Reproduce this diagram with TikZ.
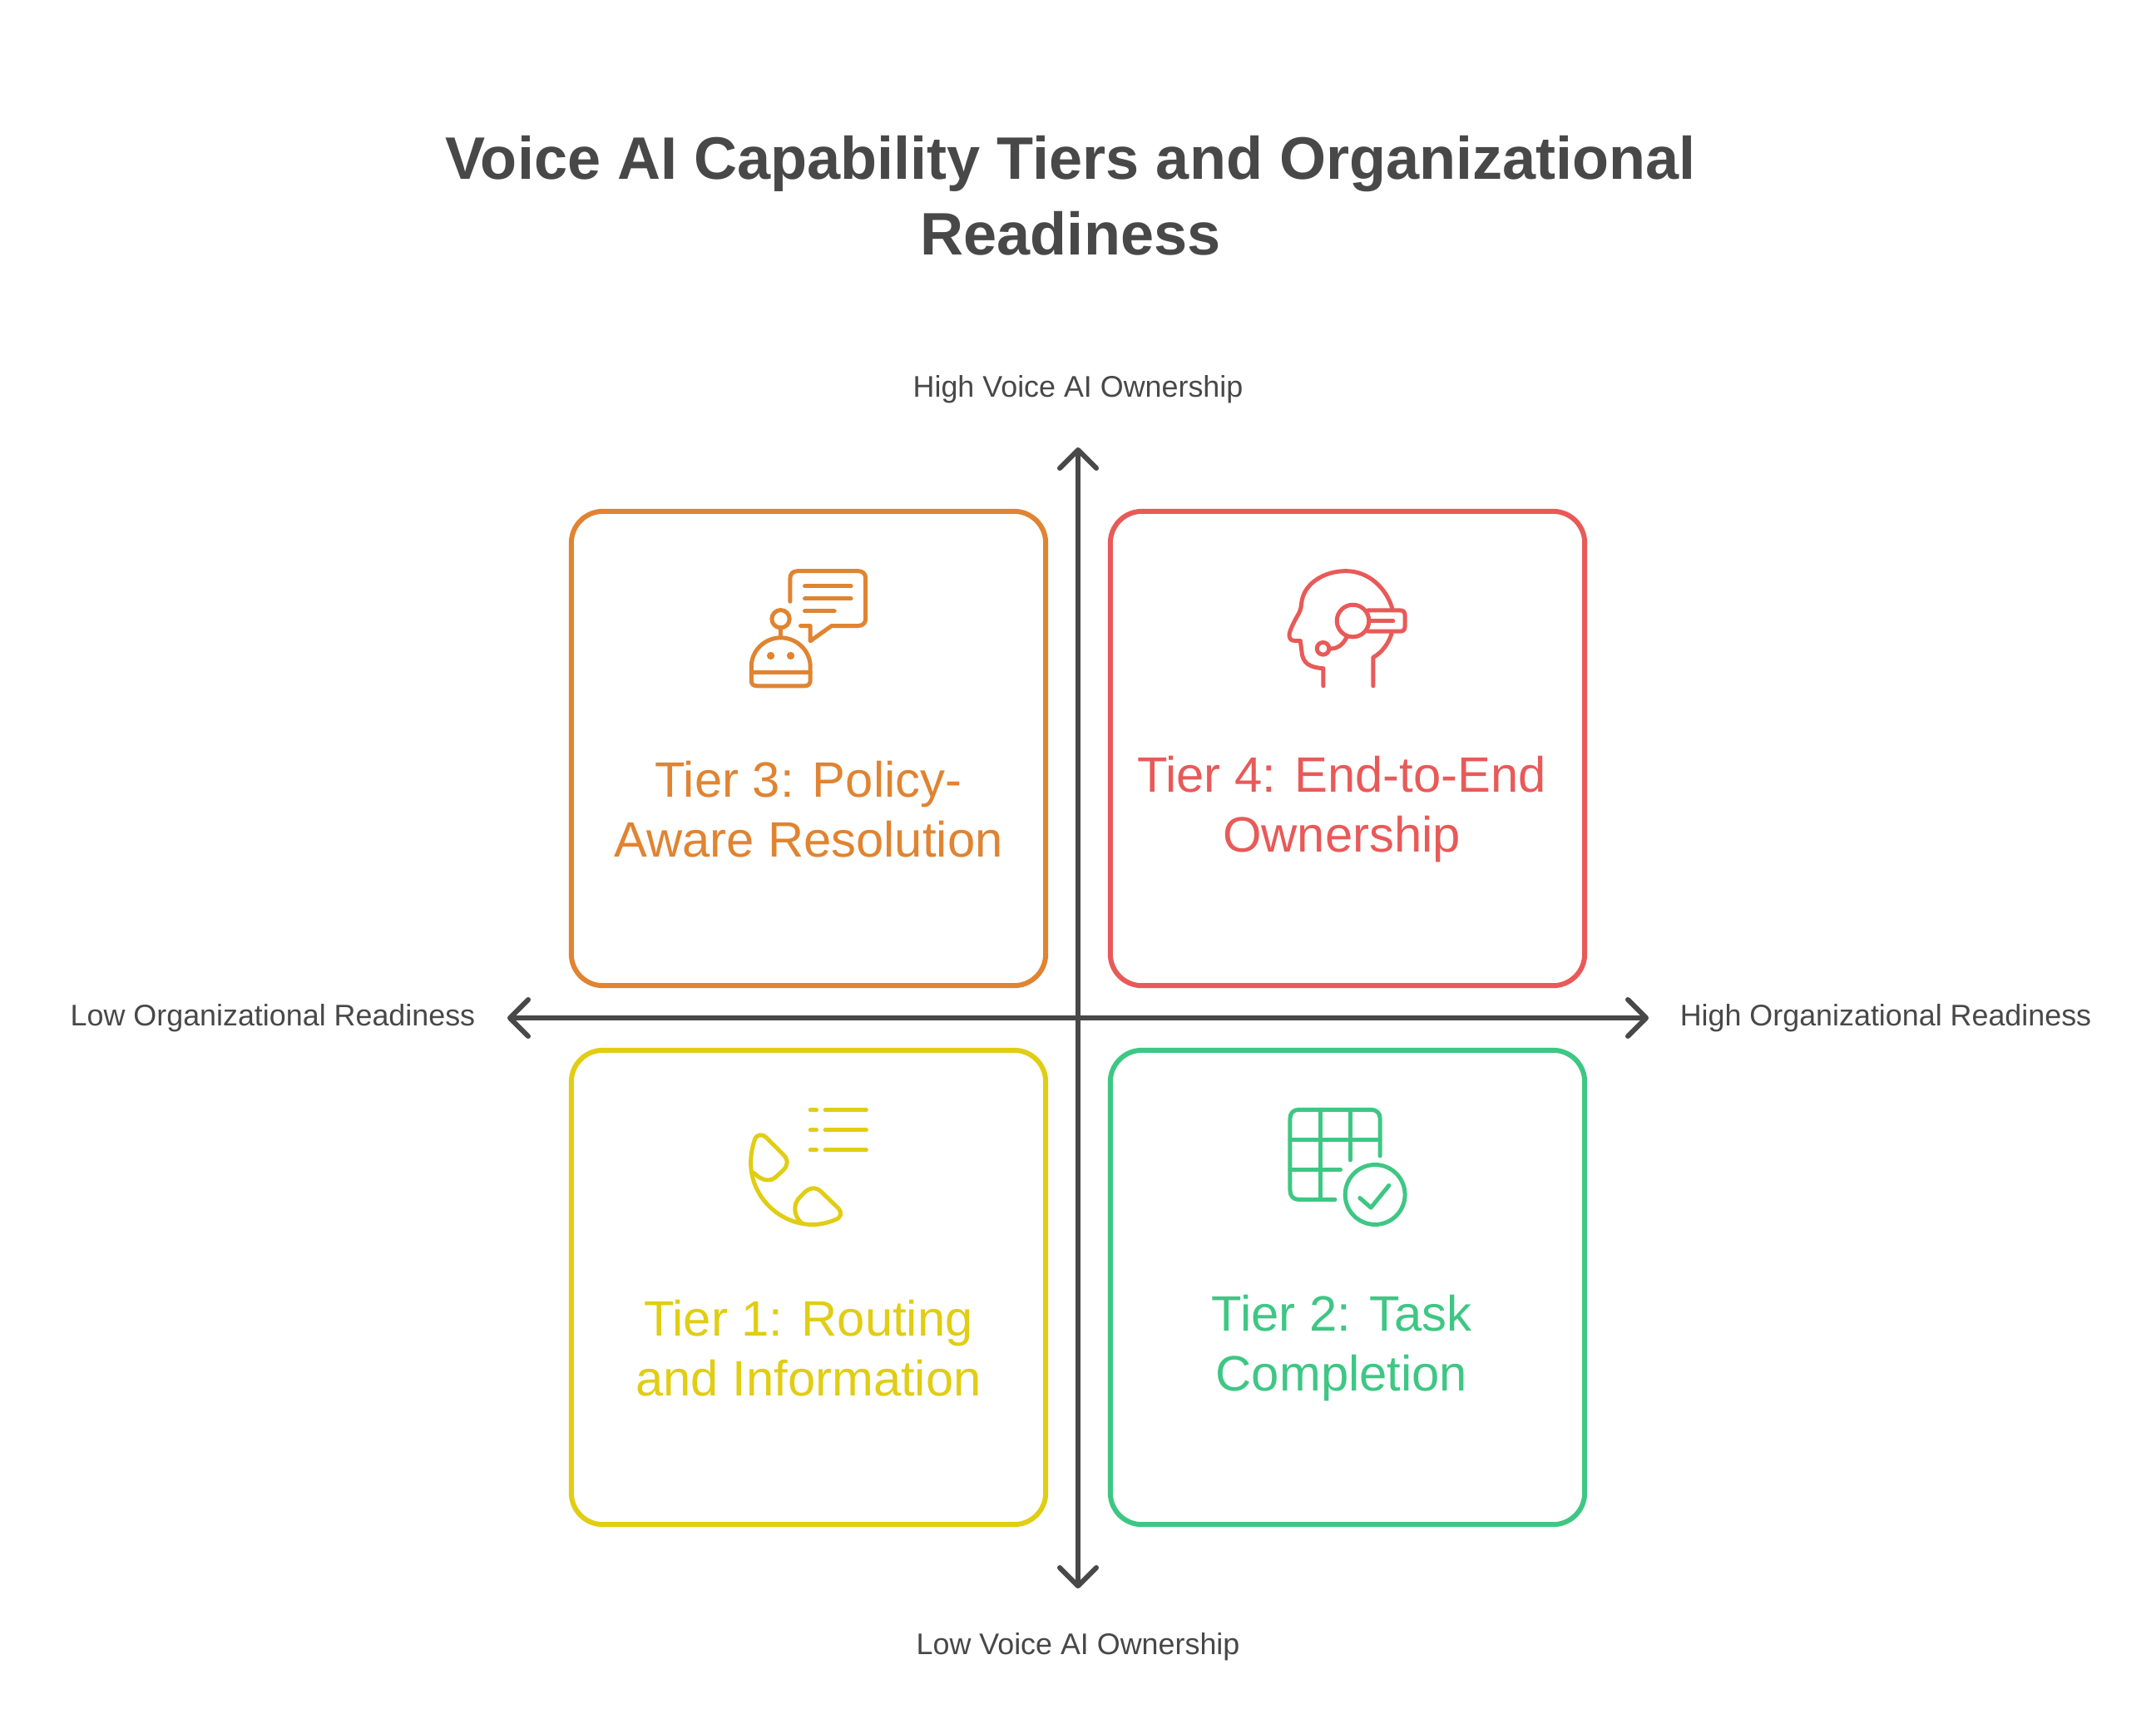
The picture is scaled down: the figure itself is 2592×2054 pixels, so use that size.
\documentclass[tikz,border=0pt]{standalone}
\usepackage{fontspec}
\setmainfont{Liberation Sans}
\usetikzlibrary{arrows.meta}
\definecolor{ink}{HTML}{484848}
\definecolor{tOrange}{HTML}{E08431}
\definecolor{tRed}{HTML}{E85A58}
\definecolor{tYellow}{HTML}{E1CD12}
\definecolor{tGreen}{HTML}{3EC784}
\tikzset{
  tierbox/.style={draw=#1,line width=0.06cm,rounded corners=0.38cm,minimum width=5.7cm,minimum height=5.7cm,inner sep=0pt},
  tierlabel/.style={text=#1,font=\fontsize{17}{20.4}\selectfont,align=center,inner sep=0pt},
  axislabel/.style={text=ink,font=\fontsize{10.2}{12}\selectfont,inner sep=0pt},
  axisline/.style={draw=ink,line width=0.06cm,{Straight Barb[length=0.22cm,width=0.44cm,line cap=round,round]}-{Straight Barb[length=0.22cm,width=0.44cm,line cap=round,round]}},
  icon/.style={draw=#1,line width=0.05cm,line cap=round,line join=round},
  iconfill/.style={fill=#1,draw=none},
}
\begin{document}
\begin{tikzpicture}[x=0.01cm,y=-0.01cm]
\path[use as bounding box,fill=white] (0,0) rectangle (2592,2054);
% title
\node[text=ink,font=\fontsize{20.5}{25.9}\selectfont\bfseries,align=center,inner sep=0pt] (title) at (1287,235) {Voice AI Capability Tiers and Organizational\\Readiness};
% boxes
\node[tierbox=tOrange] (t3) at (972,900) {};
\node[tierbox=tRed] (t4) at (1620,900) {};
\node[tierbox=tYellow] (t1) at (972,1548) {};
\node[tierbox=tGreen] (t2) at (1620,1548) {};
% labels
\node[tierlabel=tOrange] (l3) at (972,973) {Tier 3: Policy-\\Aware Resolution};
\node[tierlabel=tRed] (l4) at (1613,973) {Tier 4: End-to-End\\Ownership};
\node[tierlabel=tYellow] (l1) at (972,1621) {Tier 1: Routing\\and Information};
\node[tierlabel=tGreen] (l2) at (1613,1621) {Tier 2: Task\\Completion};
% axes
\coordinate (west) at (610,1224);
\coordinate (east) at (1982,1224);
\coordinate (north) at (1296,538);
\coordinate (south) at (1296,1910);
\draw[axisline] (west) -- (east);
\draw[axisline] (south) -- (north);
\node[axislabel] (hi) at (1296,468) {High Voice AI Ownership};
\node[axislabel] (lo) at (1296,1980) {Low Voice AI Ownership};
\node[axislabel] (lr) at (328,1224) {Low Organizational Readiness};
\node[axislabel] (hr) at (2267,1224) {High Organizational Readiness};
% icon: robot and speech bubble
\begin{scope}[shift={(860,660)},x=0.003333cm,y=-0.003333cm]
\draw[icon=tOrange] (270,190) -- (270,108) .. controls (270,90) and (280,80) .. (298,80) -- (515,80) .. controls (533,80) and (543,90) .. (543,108) -- (543,250) .. controls (543,268) and (533,278) .. (515,278) -- (420,278) -- (343,333) -- (343,278) -- (308,278);
\draw[icon=tOrange] (323,135) -- (490,135) (323,180) -- (490,180) (323,225) -- (430,225);
\draw[icon=tOrange] (236,253) circle (32);
\draw[icon=tOrange] (236,285) -- (236,321);
\draw[icon=tOrange] (236,321) .. controls (178,321) and (130,368) .. (130,425) -- (130,475) .. controls (130,488) and (137,495) .. (150,495) -- (323,495) .. controls (336,495) and (343,488) .. (343,475) -- (343,425) .. controls (343,368) and (294,321) .. (236,321);
\draw[icon=tOrange] (130,445) -- (343,445);
\fill[tOrange] (200,386) circle (14) (272,386) circle (14);
\end{scope}
% icon: head with headset
\begin{scope}[shift={(1520,660)},x=0.003333cm,y=-0.003333cm]
\draw[icon=tRed] (213,495) -- (213,432) .. controls (165,428) and (138,415) .. (135,370) -- (130,332) -- (110,332) .. controls (95,332) and (90,322) .. (90,310) .. controls (92,290) and (115,250) .. (125,232) .. controls (133,218) and (133,205) .. (135,190) .. controls (145,125) and (215,80) .. (295,80) .. controls (375,80) and (440,140) .. (462,215);
\draw[icon=tRed] (460,305) .. controls (450,340) and (425,375) .. (393,392) -- (393,495);
\draw[icon=tRed] (320,260) circle (58);
\draw[icon=tRed] (375,222) -- (490,222) .. controls (502,222) and (508,228) .. (508,240) -- (508,280) .. controls (508,292) and (502,298) .. (490,298) -- (375,298);
\draw[icon=tRed] (385,260) -- (465,260);
\draw[icon=tRed] (212,360) circle (22);
\draw[icon=tRed] (236,360) .. controls (265,362) and (285,345) .. (298,318);
\end{scope}
% icon: telephone and list
\begin{scope}[shift={(860,1310)},x=0.003333cm,y=-0.003333cm]
\draw[icon=tYellow] (343,75) -- (365,75) (397,75) -- (545,75) (343,147) -- (365,147) (397,147) -- (545,147) (343,219) -- (365,219) (397,219) -- (545,219);
\draw[icon=tYellow] (128,265) .. controls (128,235) and (134,205) .. (142,182) .. controls (148,162) and (170,160) .. (182,172) -- (245,235) .. controls (265,255) and (262,275) .. (245,292) -- (222,313) .. controls (200,335) and (170,332) .. (140,302);
\draw[icon=tYellow] (128,265) .. controls (128,390) and (235,488) .. (350,488) .. controls (385,488) and (410,480) .. (435,470) .. controls (455,462) and (458,445) .. (445,430) -- (385,372) .. controls (365,352) and (345,352) .. (322,372) -- (300,395) .. controls (280,420) and (285,460) .. (312,483);
\end{scope}
% icon: table with check
\begin{scope}[shift={(1520,1310)},x=0.003333cm,y=-0.003333cm]
\draw[icon=tGreen] (255,398) -- (125,398) .. controls (105,398) and (93,385) .. (93,365) -- (93,105) .. controls (93,85) and (105,73) .. (125,73) -- (385,73) .. controls (405,73) and (418,85) .. (418,105) -- (418,240);
\draw[icon=tGreen] (93,182) -- (418,182) (93,290) -- (275,290) (202,73) -- (202,398) (310,73) -- (310,255);
\draw[icon=tGreen] (400,380) circle (108);
\draw[icon=tGreen] (345,392) -- (385,427) -- (450,347);
\end{scope}
\end{tikzpicture}
\end{document}
